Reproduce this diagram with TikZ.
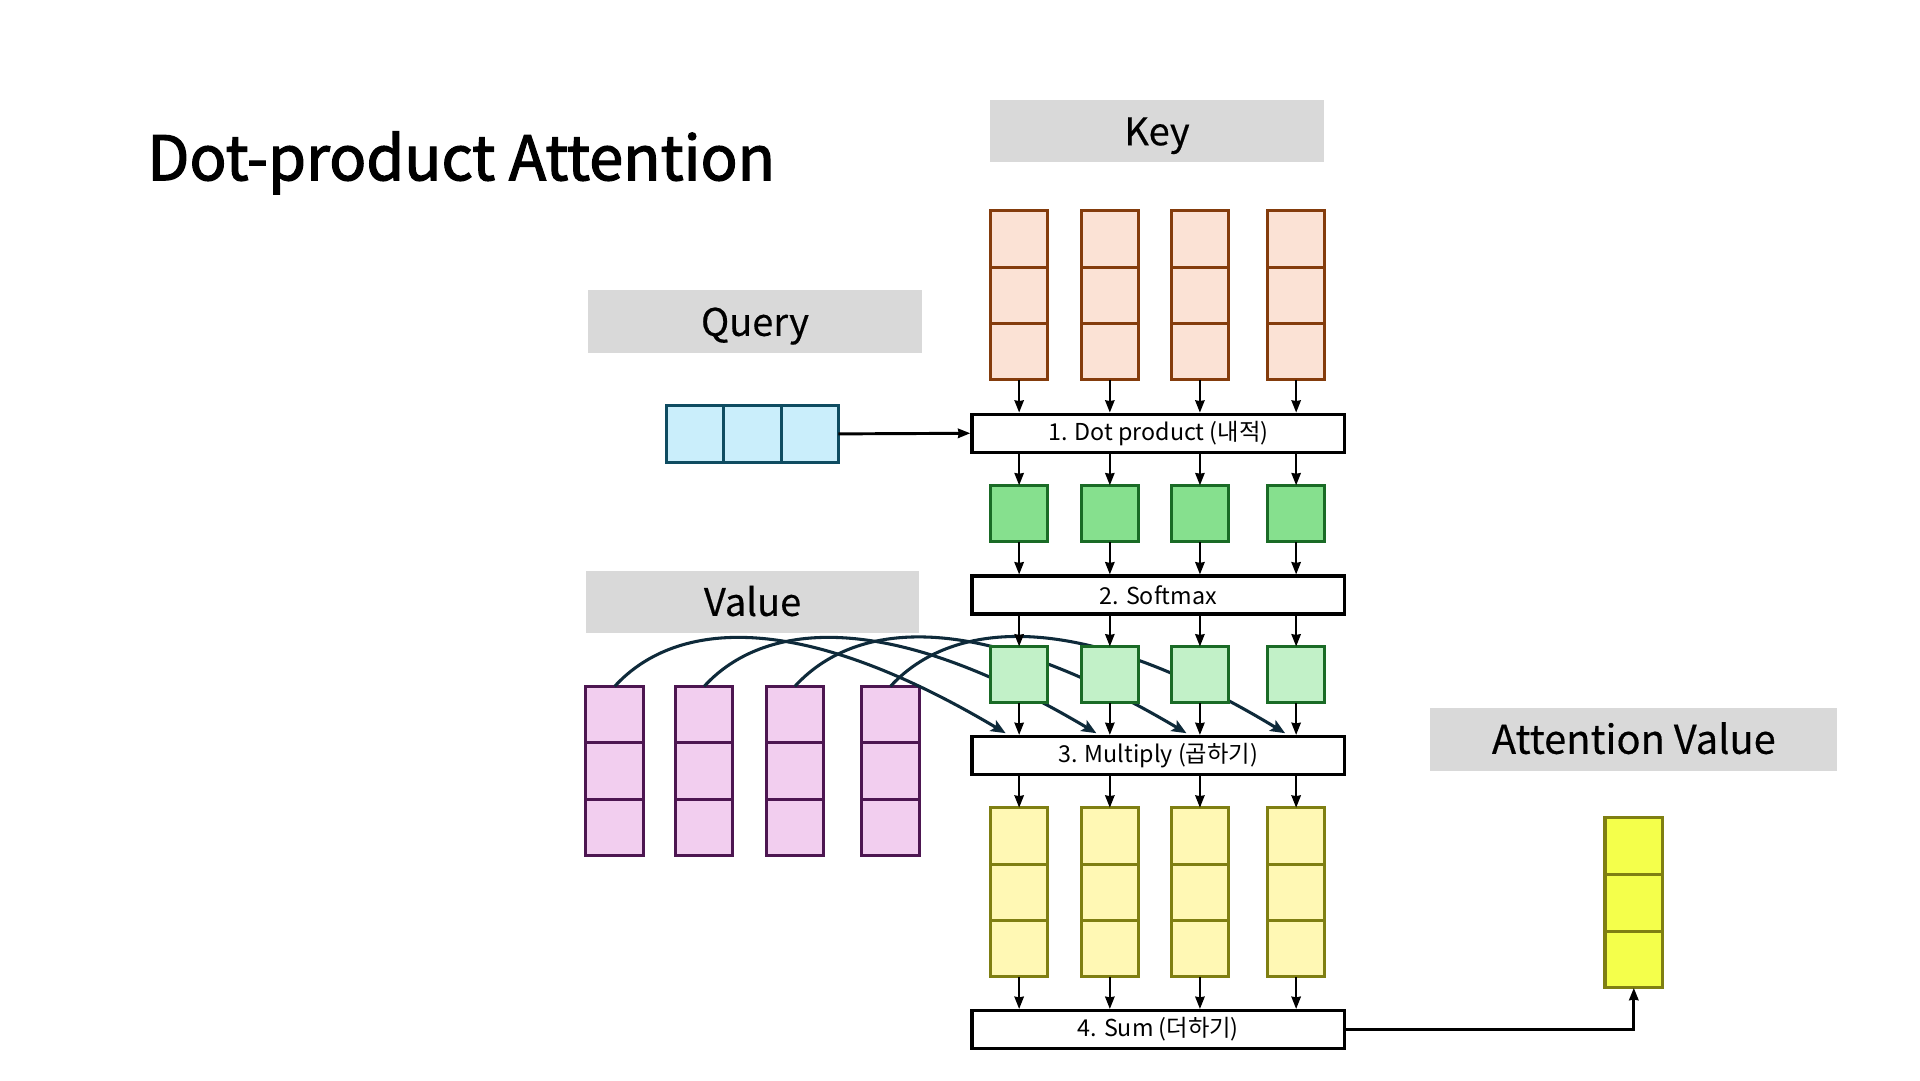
\documentclass[tikz,border=0pt]{standalone}
\usepackage{fontspec}
\setmainfont{Noto Sans CJK KR}
\newfontfamily\titlefont[FakeBold=2]{Noto Sans CJK KR}
\newfontfamily\labfont[FakeBold=0.4]{Noto Sans CJK KR}
\usetikzlibrary{arrows.meta,calc}
\definecolor{labgray}{HTML}{D9D9D9}
\definecolor{keyfill}{HTML}{FBE2D5}
\definecolor{keydraw}{HTML}{843C0C}
\definecolor{qfill}{HTML}{CAEEFB}
\definecolor{qdraw}{HTML}{0F4C61}
\definecolor{gfill}{HTML}{86E08E}
\definecolor{lgfill}{HTML}{C2F1C8}
\definecolor{gdraw}{HTML}{1A6B26}
\definecolor{vfill}{HTML}{F2CEEF}
\definecolor{vdraw}{HTML}{4D1651}
\definecolor{yfill}{HTML}{FFF8B4}
\definecolor{ydraw}{HTML}{7F7F12}
\definecolor{afill}{HTML}{F4FF4B}
\definecolor{curvec}{HTML}{0E2A3A}
\tikzset{
  cell/.style={draw, line width=2.5pt, minimum width=47pt, minimum height=46pt, inner sep=0pt, outer sep=0pt},
  keycell/.style={cell, fill=keyfill, draw=keydraw},
  qcell/.style={cell, fill=qfill, draw=qdraw, minimum width=46.7pt},
  gcell/.style={cell, fill=gfill, draw=gdraw},
  lgcell/.style={cell, fill=lgfill, draw=gdraw},
  vcell/.style={cell, fill=vfill, draw=vdraw},
  ycell/.style={cell, fill=yfill, draw=ydraw},
  acell/.style={cell, fill=afill, draw=ydraw},
  proc/.style={draw, line width=2.6pt, fill=white, minimum width=304pt, minimum height=31pt, inner sep=0pt, font=\fontsize{19}{22}\selectfont},
  lab/.style={fill=labgray, minimum height=51pt, inner sep=0pt, text height=28pt, text depth=5pt, font=\labfont\fontsize{31}{36}\selectfont},
  arr/.style={line width=2pt, -{Stealth[length=10pt,width=7.5pt,inset=0.5pt]}},
  varr/.style={line width=2.5pt, draw=curvec, -{Stealth[length=12pt,width=10pt,inset=2.5pt]}}
}
\newcommand\mycolumn[4]{%
  \node[#4] (#1a) at (#2,#3+23) {};
  \node[#4] (#1b) at (#2,#3+69) {};
  \node[#4] (#1c) at (#2,#3+115) {};
}
\begin{document}
\begin{tikzpicture}[x=1pt,y=-1pt]
\useasboundingbox (0,0) rectangle (1566.5,881.2);
\fill[white] (0,0) rectangle (1566.5,881.2);

% title
\node[anchor=base west, inner sep=0pt, font=\titlefont\fontsize{50}{56}\selectfont] (title) at (120,147) {Dot-product Attention};

% labels
\node[lab, minimum width=272pt] (keyl) at (944,107) {Key};
\node[lab, minimum width=272pt] (queryl) at (616,262.5) {Query};
\node[lab, minimum width=272pt] (valuel) at (614,491) {Value};
\node[lab, minimum width=332pt, font=\labfont\fontsize{32.5}{38}\selectfont] (attl) at (1333,603.5) {Attention Value};

% process boxes
\node[proc] (dot) at (945,353.5) {1. Dot product (내적)};
\node[proc] (soft) at (945,485.5) {2. Softmax};
\node[proc] (mult) at (945,616.5) {3. Multiply (곱하기)};
\node[proc] (sum) at (945,840) {4. Sum (더하기)};

% key columns
\mycolumn{ka}{831.5}{172}{keycell}
\mycolumn{kb}{905.5}{172}{keycell}
\mycolumn{kc}{979}{172}{keycell}
\mycolumn{kd}{1057.5}{172}{keycell}

% query
\node[qcell] (q1) at (567.3,354) {};
\node[qcell] (q2) at (614,354) {};
\node[qcell] (q3) at (660.7,354) {};
\draw[arr, line width=2.4pt] (q3.east) -- (dot.west);

% value columns
\mycolumn{va}{501.5}{560}{vcell}
\mycolumn{vb}{574.5}{560}{vcell}
\mycolumn{vc}{648.5}{560}{vcell}
\mycolumn{vd}{726.5}{560}{vcell}

% yellow columns
\mycolumn{ya}{831.5}{659}{ycell}
\mycolumn{yb}{905.5}{659}{ycell}
\mycolumn{yc}{979}{659}{ycell}
\mycolumn{yd}{1057.5}{659}{ycell}

% attention value vector
\node[acell, minimum height=46.3pt] (ava) at (1333,690.2) {};
\node[acell, minimum height=46.3pt] (avb) at (1333,736.5) {};
\node[acell, minimum height=46.3pt] (avc) at (1333,782.8) {};

% end points of the value curves
\coordinate (ea) at ($(kac.south |- mult.north)+(-11,-1.5)$);
\coordinate (eb) at ($(kbc.south |- mult.north)+(-11,-1.5)$);
\coordinate (ec) at ($(kcc.south |- mult.north)+(-11,-1.5)$);
\coordinate (ed) at ($(kdc.south |- mult.north)+(-9,-1.5)$);

% value curves (behind the softmax outputs)
\draw[varr] (vaa.north) .. controls +(42,-46) and +(-185,-110) .. (ea);
\draw[varr] (vba.north) .. controls +(42,-46) and +(-185,-110) .. (eb);
\draw[varr] (vca.north) .. controls +(42,-46) and +(-187,-111) .. (ec);
\draw[varr] (vda.north) .. controls +(42,-46) and +(-185,-112) .. (ed);

% dot-product outputs and softmax outputs
\node[gcell] (ga) at (831.5,419) {};
\node[gcell] (gb) at (905.5,419) {};
\node[gcell] (gc) at (979,419) {};
\node[gcell] (gd) at (1057.5,419) {};
\node[lgcell] (la) at (831.5,550.5) {};
\node[lgcell] (lb) at (905.5,550.5) {};
\node[lgcell] (lc) at (979,550.5) {};
\node[lgcell] (ld) at (1057.5,550.5) {};

% vertical arrows
\foreach \c in {a,b,c,d}{
  \draw[arr] (k\c c.south) -- (k\c c.south |- dot.north);
  \draw[arr] (g\c.north |- dot.south) -- (g\c.north);
  \draw[arr] (g\c.south) -- (g\c.south |- soft.north);
  \draw[arr] (l\c.north |- soft.south) -- (l\c.north);
  \draw[arr] (l\c.south) -- (l\c.south |- mult.north);
  \draw[arr] (y\c a.north |- mult.south) -- (y\c a.north);
  \draw[arr] (y\c c.south) -- (y\c c.south |- sum.north);
}

% sum to attention value
\draw[arr, line width=2.4pt] (sum.east) -| (avc.south);
\end{tikzpicture}
\end{document}
